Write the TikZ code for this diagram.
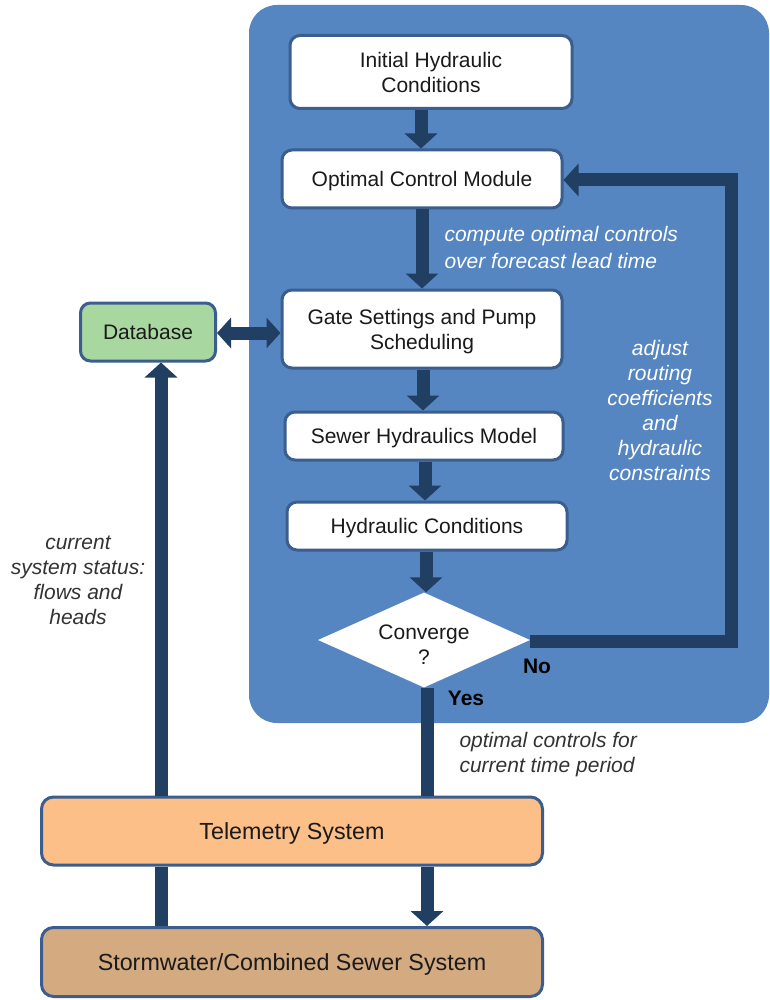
\documentclass[tikz,border=0pt]{standalone}
\usepackage{fontspec}
\setmainfont{Liberation Sans}
\usetikzlibrary{arrows.meta,shapes.geometric}
\definecolor{panelblue}{HTML}{5586C1}
\definecolor{navy}{HTML}{213F63}
\definecolor{boxedge}{HTML}{3B5E8E}
\definecolor{dbgreen}{HTML}{A9D7A0}
\definecolor{telorange}{HTML}{FBBF87}
\definecolor{swtan}{HTML}{D4AA81}
\definecolor{txt}{HTML}{1A1A1A}
\definecolor{lbl}{HTML}{333333}
\begin{document}
\begin{tikzpicture}[x=1pt,y=-1pt,
  every node/.style={font=\fontsize{21}{25}\selectfont, text=txt},
  procbox/.style={draw=boxedge, line width=3pt, fill=white, rounded corners=10pt, align=center, inner sep=0pt, text depth=0pt},
  sysbox/.style={draw=boxedge, line width=3pt, rounded corners=12pt, align=center, inner sep=0pt, text depth=0pt, font=\fontsize{23.3}{27}\selectfont},
  arr/.style={draw=navy, line width=13pt, -{Triangle[width=32pt,length=15pt]}},
  dblarr/.style={draw=navy, line width=13pt, {Triangle[width=30pt,length=14pt]}-{Triangle[width=30pt,length=14pt]}},
  shaft/.style={draw=navy, line width=13pt},
  whitelbl/.style={text=white, font=\fontsize{21}{25}\selectfont\itshape},
  graylbl/.style={text=lbl, font=\fontsize{21}{25}\selectfont\itshape},
  answer/.style={font=\fontsize{21}{25}\selectfont\bfseries, text=black}
]
\useasboundingbox (0,0) rectangle (770,1000);
\fill[white] (0,0) rectangle (770,1000);
% panel
\fill[panelblue, rounded corners=28pt] (249,5) rectangle (769,723);

% nodes
\node[procbox, minimum width=282pt, minimum height=73pt] (init) at (431,72) {Initial Hydraulic\\Conditions};
\node[procbox, minimum width=280pt, minimum height=58pt] (ocm) at (422,179) {Optimal Control Module};
\node[procbox, minimum width=280pt, minimum height=78pt] (gate) at (422,329) {Gate Settings and Pump\\Scheduling};
\node[procbox, minimum width=278pt, minimum height=48pt] (shm) at (424,436) {Sewer Hydraulics Model};
\node[procbox, minimum width=280pt, minimum height=48pt] (hc) at (427,526) {Hydraulic Conditions};
\node[diamond, fill=white, inner sep=0pt, minimum width=212pt, minimum height=95pt] (conv) at (424,640) {};
\node[align=center] (convtxt) at (424,645) {Converge\\?};
\node[procbox, fill=dbgreen, minimum width=135pt, minimum height=58pt] (db) at (148,332) {Database};
\node[sysbox, fill=telorange, minimum width=501pt, minimum height=68pt] (tel) at (292,831) {Telemetry System};
\node[sysbox, fill=swtan, minimum width=501pt, minimum height=69pt] (sws) at (292,962) {Stormwater/Combined Sewer System};

% connectors
\draw[arr] (init.south -| 421,0) -- (ocm.north -| 421,0);
\draw[arr] (ocm.south -| 422,0) -- (gate.north -| 422,0);
\draw[arr] (gate.south -| 423,0) -- (shm.north -| 423,0);
\draw[arr] (shm.south -| 425,0) -- (hc.north -| 425,0);
\draw[arr] (hc.south -| 426,0) -- (conv.north -| 426,0);
\coordinate (fbA) at (731,641);
\coordinate (fbB) at (731,180);
\draw[arr] (conv.east |- 0,641) -- (fbA) -- (fbB) -- (ocm.east |- 0,180);
\draw[dblarr] (db.east |- 0,333) -- (gate.west |- 0,333);
\draw[shaft] (conv.south -| 427,0) -- (tel.north -| 427,0);
\draw[arr] (tel.south -| 427,0) -- (sws.north -| 427,0);
\draw[shaft] (sws.north -| 161,0) -- (tel.south -| 161,0);
\draw[arr] (tel.north -| 161,0) -- (db.south -| 161,0);

% labels
\node[whitelbl, anchor=west, align=left, font=\fontsize{21}{27}\selectfont\itshape] (lcomp) at (441,247) {compute optimal controls\\over forecast lead time};
\node[whitelbl, align=center] (ladj) at (660,410) {adjust\\routing\\coefficients\\and\\hydraulic\\constraints};
\node[answer] (lno) at (537,666) {No};
\node[answer] (lyes) at (466,698) {Yes};
\node[graylbl, align=center] (lcur) at (78,580) {current\\system status:\\flows and\\heads};
\node[graylbl, anchor=west, align=left] (lopt) at (456,755) {optimal controls for\\current time period};
\end{tikzpicture}
\end{document}
